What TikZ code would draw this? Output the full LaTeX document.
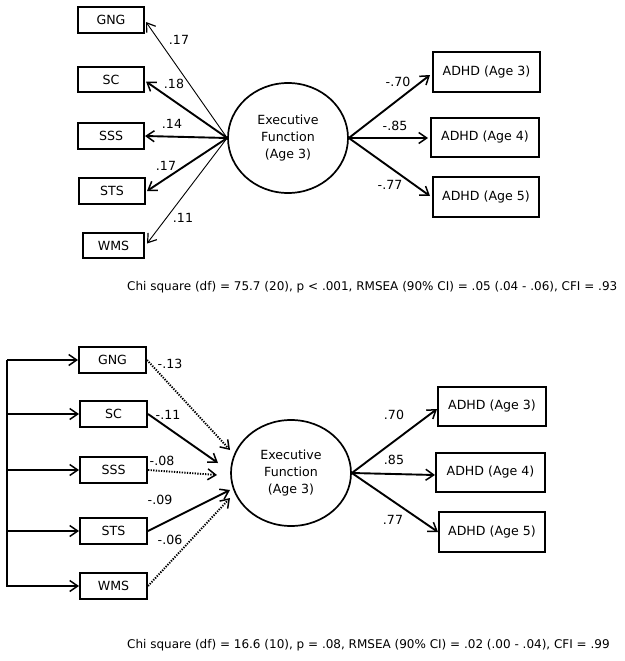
\documentclass[tikz,border=0pt]{standalone}
\usepackage{fontspec}
\setmainfont{DejaVu Sans}
\usetikzlibrary{arrows.meta,shapes.geometric,calc}
\begin{document}
\begin{tikzpicture}[x=1pt,y=-1pt,
  font=\fontsize{12.6}{17}\selectfont,
  box/.style={draw, line width=2pt, inner sep=0pt, minimum width=66pt, minimum height=26pt},
  abox/.style={draw, line width=2pt, inner sep=0pt, minimum width=107pt, minimum height=39pt},
  lat/.style={draw, ellipse, line width=1.7pt, inner sep=0pt, minimum width=120pt, minimum height=108pt, align=center},
  path/.style={line width=1.9pt, -{Straight Barb[length=8pt,width=11pt,line width=1.5pt]}},
  thinpath/.style={line width=0.9pt, -{Straight Barb[length=8pt,width=11pt,line width=1.2pt]}},
  dotpath/.style={path, dash pattern=on 1.3pt off 1.3pt},
  coef/.style={inner sep=0pt},
  fit/.style={anchor=west, inner sep=0pt, font=\fontsize{12}{14}\selectfont}]
\useasboundingbox (0,0) rectangle (624,661);

% ---------------- Top model ----------------
\node[box] (gng1) at (111,20) {GNG};
\node[box, minimum height=25pt] (sc1) at (111,79.5) {SC};
\node[box] (sss1) at (111,136) {SSS};
\node[box] (sts1) at (112,191) {STS};
\node[box, minimum width=61pt, minimum height=25pt] (wms1) at (113.5,245.5) {WMS};
\node[lat, minimum height=110pt] (ef1) at (288,138) {Executive\\Function\\(Age 3)};
\node[abox, minimum height=40pt] (a31) at (486.5,72) {ADHD (Age 3)};
\node[abox, minimum width=108pt] (a41) at (485,137.5) {ADHD (Age 4)};
\node[abox, minimum width=106pt, minimum height=40pt] (a51) at (486,197) {ADHD (Age 5)};

\draw[thinpath] (ef1.west) -- ($(gng1.east)+(1,2)$);
\draw[path] (ef1.west) -- ($(sc1.east)+(1,2)$);
\draw[path] (ef1.west) -- (sss1.east);
\draw[path] (ef1.west) -- ($(sts1.east)+(1,0)$);
\draw[thinpath] (ef1.west) -- ($(wms1.east)+(2,-2)$);
\draw[path] (ef1.east) -- ($(a31.west)+(-2,3)$);
\draw[path] (ef1.east) -- ($(a41.west)+(-2,0.5)$);
\draw[path] (ef1.east) -- ($(a51.west)+(-2,-1)$);

\node[coef] (l1) at (179,40) {.17};
\node[coef] (l2) at (174,84) {.18};
\node[coef] (l3) at (172,124) {.14};
\node[coef] (l4) at (166,166) {.17};
\node[coef] (l5) at (183,218) {.11};
\node[coef] (l6) at (398,82) {-.70};
\node[coef] (l7) at (395,126) {-.85};
\node[coef] (l8) at (390,185) {-.77};

\node[fit] (fit1) at (127,287) {Chi square (df) = 75.7 (20), p < .001, RMSEA (90\% CI) = .05 (.04 - .06), CFI = .93};

% ---------------- Bottom model ----------------
\node[box, minimum width=67pt] (gng2) at (112.5,360) {GNG};
\node[box, minimum width=67pt] (sc2) at (113.5,414) {SC};
\node[box, minimum width=67pt] (sss2) at (113.5,470) {SSS};
\node[box, minimum width=67pt] (sts2) at (113.5,531) {STS};
\node[box, minimum width=67pt] (wms2) at (113.5,586) {WMS};
\node[lat, minimum height=106pt] (ef2) at (291,473) {Executive\\Function\\(Age 3)};
\node[abox, minimum width=108pt] (a32) at (492,406.5) {ADHD (Age 3)};
\node[abox, minimum width=109pt] (a42) at (490.5,472.5) {ADHD (Age 4)};
\node[abox, minimum width=106pt, minimum height=40pt] (a52) at (492,532) {ADHD (Age 5)};

\coordinate (top) at (7,360);
\coordinate (bot) at (7,587);
\draw[line width=1.9pt] (top) -- (bot);
\foreach \b in {gng2,sc2,sss2,sts2,wms2}
  \draw[path] (top |- \b.west) -- (\b.west);

\coordinate (p1) at (230,450);
\coordinate (p2) at (218,463);
\coordinate (p3) at (217,475);
\coordinate (p4) at (230,490);
\coordinate (p5) at (230,498);
\draw[dotpath] (gng2.east) -- (p1);
\draw[path] (sc2.east) -- (p2);
\draw[dotpath] (sss2.east) -- (p3);
\draw[path] (sts2.east) -- (p4);
\draw[dotpath] (wms2.east) -- (p5);

\draw[path] (ef2.east) -- ($(a32.west)+(0,2.5)$);
\draw[path] (ef2.east) -- ($(a42.west)+(0,2.5)$);
\draw[path] (ef2.east) -- (a52.west);

\node[coef] (m1) at (170,364) {-.13};
\node[coef] (m2) at (168,415) {-.11};
\node[coef] (m3) at (162,461) {-.08};
\node[coef] (m4) at (160,500) {-.09};
\node[coef] (m5) at (170,540) {-.06};
\node[coef] (m6) at (394,415) {.70};
\node[coef] (m7) at (394,460) {.85};
\node[coef] (m8) at (393,520) {.77};

\node[fit] (fit2) at (127,645) {Chi square (df) = 16.6 (10), p = .08, RMSEA (90\% CI) = .02 (.00 - .04), CFI = .99};
\end{tikzpicture}
\end{document}
